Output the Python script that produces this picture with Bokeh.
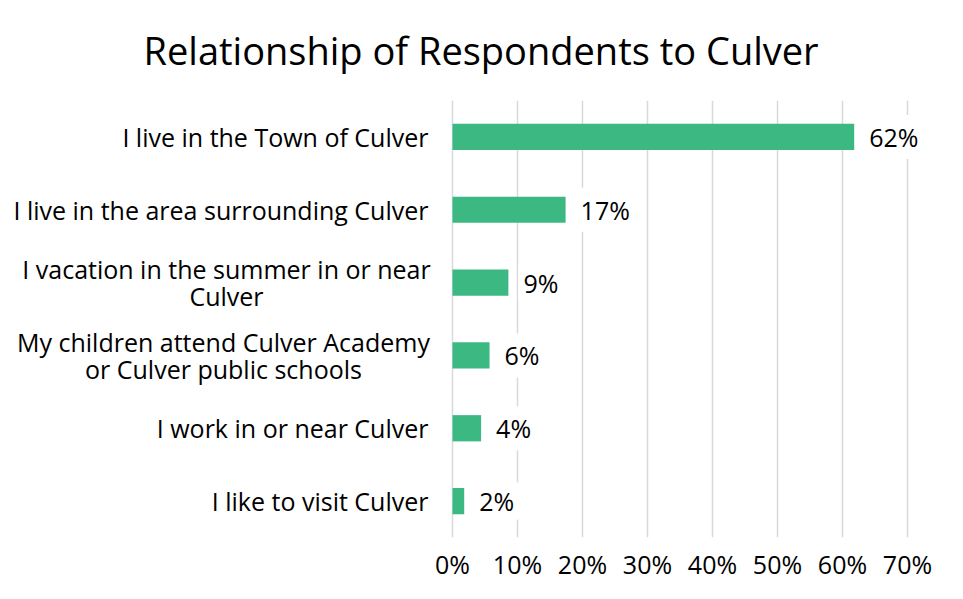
from bokeh.plotting import figure
from bokeh.models import ColumnDataSource, FixedTicker, NumeralTickFormatter, Range1d, LabelSet
from bokeh.core.properties import value
from bokeh.embed import file_html
from bokeh.resources import INLINE

categories = [
    "I live in the Town of Culver",
    "I live in the area surrounding Culver",
    "I vacation in the summer in or near\nCulver",
    "My children attend Culver Academy\nor Culver public schools",
    "I work in or near Culver",
    "I like to visit Culver",
]
values = [0.618, 0.174, 0.086, 0.057, 0.044, 0.018]
value_labels = ["62%", "17%", "9%", "6%", "4%", "2%"]
x_ticks = [0, 0.1, 0.2, 0.3, 0.4, 0.5, 0.6, 0.7]

# ---- styling / layout constants ----
FONT = "Open Sans"
FS = "25px"
W, H = 947, 583
ZERO_PX = 452           # pixel position of 0 %
PX_PER_UNIT = 650       # pixels per 100 %
LABEL_GAP = 24          # px between category label block and the 0 % line
LINE_STEP = 27          # px between lines of a two-line label
BLOCK_W = {             # approx. rendered width of two-line label blocks
    "I vacation in the summer in or near\nCulver": 404,
    "My children attend Culver Academy\nor Culver public schools": 410,
}

x_start = -ZERO_PX / PX_PER_UNIT
x_end = (W - ZERO_PX) / PX_PER_UNIT

source = ColumnDataSource(dict(cat=categories, value=values, label=value_labels))

single = [c for c in categories if "\n" not in c]
src_single = ColumnDataSource(dict(cat=single, x=[0] * len(single)))

m_cat, m_text, m_xoff, m_yoff = [], [], [], []
for c in categories:
    if "\n" not in c:
        continue
    lines = c.split("\n")
    n = len(lines)
    for i, ln in enumerate(lines):
        m_cat.append(c)
        m_text.append(ln)
        m_xoff.append(-LABEL_GAP - BLOCK_W[c] / 2)
        m_yoff.append(((n - 1) / 2 - i) * LINE_STEP)
src_multi = ColumnDataSource(dict(cat=m_cat, text=m_text, x=[0] * len(m_cat),
                                  xoff=m_xoff, yoff=m_yoff))

p = figure(
    width=W, height=H,
    y_range=list(reversed(categories)),
    x_range=Range1d(x_start, x_end),
    output_backend="svg", toolbar_location=None,
    min_border_left=0, min_border_right=0, min_border_top=0, min_border_bottom=45,
    title="Relationship of Respondents to Culver",
)
p.hbar(y="cat", right="value", left=0, height=0.36, source=source,
       fill_color="#3CB882", line_color=None)

p.add_layout(LabelSet(x="value", y="cat", text="label", source=source,
                      x_offset=15, text_baseline="middle", text_align="left",
                      text_font=value(FONT), text_font_size=value(FS), text_color="#000000",
                      background_fill_color="white", border_line_color="white",
                      border_line_width=10))

p.add_layout(LabelSet(x="x", y="cat", text="cat", source=src_single,
                      x_offset=-LABEL_GAP, text_baseline="middle", text_align="right",
                      text_font=value(FONT), text_font_size=value(FS), text_color="#000000"))
p.add_layout(LabelSet(x="x", y="cat", text="text", source=src_multi,
                      x_offset="xoff", y_offset="yoff", text_baseline="middle",
                      text_align="center",
                      text_font=value(FONT), text_font_size=value(FS), text_color="#000000"))

p.title.text_font = FONT
p.title.text_font_size = "38px"
p.title.text_font_style = "normal"
p.title.text_color = "#000000"
p.title.align = "left"
p.title.vertical_align = "top"
p.title.offset = 143
p.title.standoff = 46

p.xaxis.ticker = FixedTicker(ticks=x_ticks)
p.xaxis.formatter = NumeralTickFormatter(format="0%")
p.xaxis.axis_line_color = None
p.xaxis.major_tick_line_color = None
p.xaxis.minor_tick_line_color = None
p.xaxis.major_label_text_font = FONT
p.xaxis.major_label_text_font_size = FS
p.xaxis.major_label_text_color = "#000000"
p.xaxis.major_label_standoff = 3

p.yaxis.visible = False

p.ygrid.grid_line_color = None
p.xgrid.grid_line_color = "#D9D9D9"
p.xgrid.grid_line_width = 1.5
p.outline_line_color = None

open("out.html", "w").write(file_html(p, INLINE))
